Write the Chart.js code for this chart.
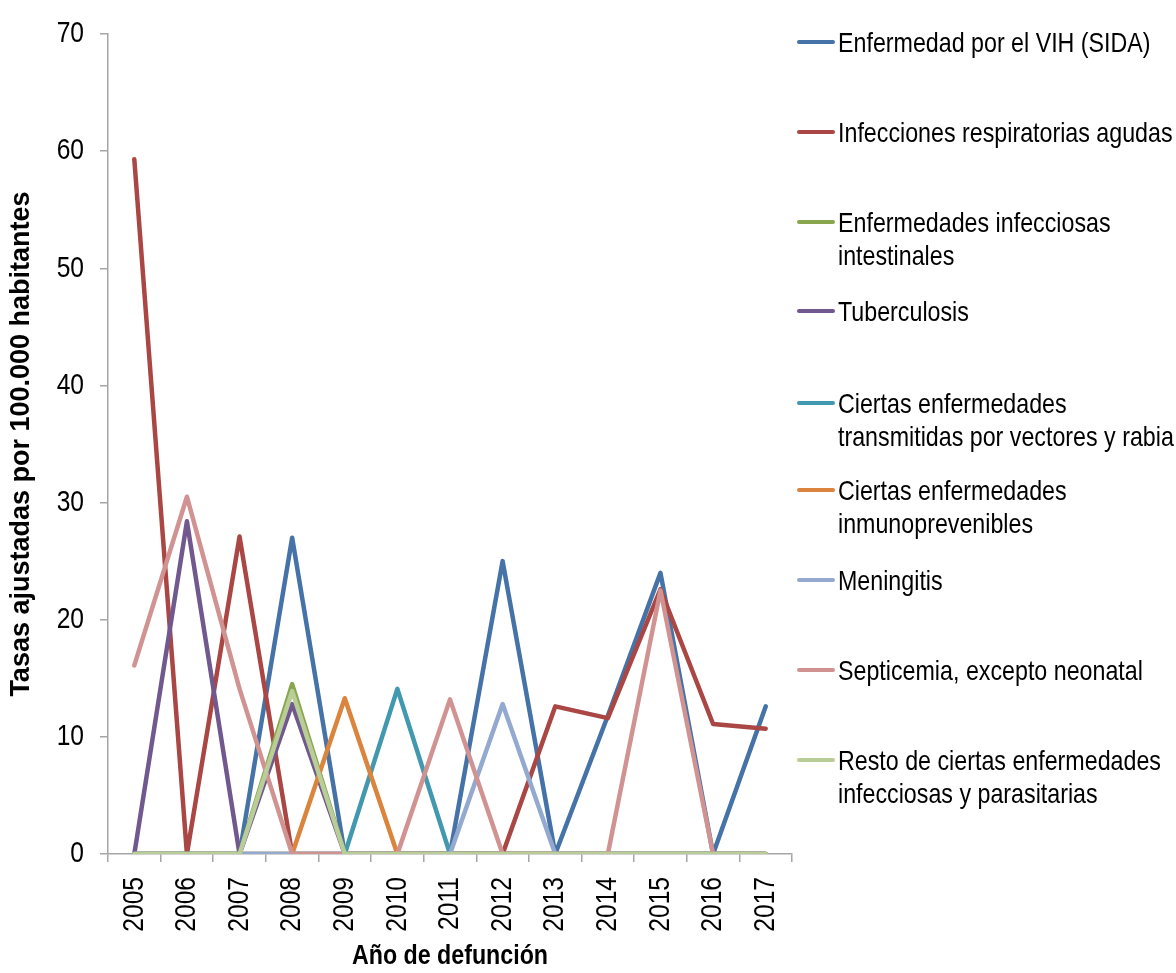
<!DOCTYPE html>
<html>
<head>
<meta charset="utf-8">
<script src="https://cdn.jsdelivr.net/npm/chart.js@4"></script>
<style>
  body { margin: 0; background: #fff; }
  #wrap { position: relative; width: 1176px; height: 973px; overflow: hidden; }
  #chart { position: absolute; left: 0; top: 0; }
  .leg { position: absolute; left: 797px; font-family: "Liberation Sans", Arial, sans-serif; font-size: 28px; line-height: 33px; color: #000; white-space: pre; }
  .leg .bar { position: absolute; left: 0; top: 14px; width: 38px; height: 4px; border-radius: 2px; }
  .leg .txt { position: absolute; left: 41px; top: 0; transform: scaleX(0.83); transform-origin: 0 0; }
</style>
</head>
<body>
<div id="wrap">
  <canvas id="chart" width="1176" height="973"></canvas>
</div>
<script>
const years = ["2005", "2006", "2007", "2008", "2009", "2010", "2011", "2012", "2013", "2014", "2015", "2016", "2017"];

const seriesNames = [
    "Enfermedad por el VIH (SIDA)",
    "Infecciones respiratorias agudas",
    "Enfermedades infecciosas\nintestinales",
    "Tuberculosis",
    "Ciertas enfermedades\ntransmitidas por vectores y rabia",
    "Ciertas enfermedades\ninmunoprevenibles",
    "Meningitis",
    "Septicemia, excepto neonatal",
    "Resto de ciertas enfermedades\ninfecciosas y parasitarias",
];

const seriesColors = ["#4572A7", "#AA4643", "#89A54E", "#71588F", "#4198AF", "#DB843D", "#93A9CF", "#D19392", "#B9CD96"];

// valores por serie (tasas ajustadas)
const vih        = [0, 0, 0, 27.0, 0, 0, 0, 25.0, 0, 11.8, 24.0, 0, 12.6];
const ira        = [59.3, 0, 27.1, 0, 0, 0, 0, 0, 12.6, 11.6, 22.6, 11.1, 10.7];
const intestinal = [0, 0, 0, 14.5, 0, 0, 0, 0, 0, 0, 0, 0, 0];
const tbc        = [0, 28.4, 0, 12.8, 0, 0, 0, 0, 0, 0, 0, 0, 0];
const vectores   = [0, 0, 0, 0, 0, 14.1, 0, 0, 0, 0, 0, 0, 0];
const inmuno     = [0, 0, 0, 0, 13.3, 0, 0, 0, 0, 0, 0, 0, 0];
const meningitis = [0, 0, 0, 0, 0, 0, 0, 12.8, 0, 0, 0, 0, 0];
const septicemia = [16.1, 30.5, 14.1, 0, 0, 0, 13.2, 0, 0, 0, 22.5, 0, 0];
const resto      = [0, 0, 0, 13.9, 0, 0, 0, 0, 0, 0, 0, 0, 0];

const yTicks = [0, 10, 20, 30, 40, 50, 60, 70];

const allSeries = [vih, ira, intestinal, tbc, vectores, inmuno, meningitis, septicemia, resto];
const legendY = [42, 132, 222, 311, 403, 490, 580, 670, 760];

const yTitle = "Tasas ajustadas por 100.000 habitantes";
const xTitle = "Año de defunción";

const font = "'Liberation Sans', Arial, sans-serif";
const axisColor = "#a6a6a6";

const canvas = document.getElementById("chart");
const ctx = canvas.getContext("2d");

// texto estrecho (tipo Arial Narrow): comprimimos horizontalmente cada fillText,
// salvo el título del eje Y que va en ancho normal
const plainFillText = ctx.fillText;
ctx.fillText = function (text, x, y, maxWidth) {
    const k = text === yTitle ? 1 : (text === xTitle ? 0.86 : 0.82);
    this.save();
    this.translate(x, y);
    this.scale(k, 1);
    if (maxWidth === undefined) plainFillText.call(this, text, 0, 0);
    else plainFillText.call(this, text, 0, 0, maxWidth / k);
    this.restore();
};

const datasets = allSeries.map((data, i) => ({
    label: seriesNames[i].replace("\n", " "),
    data: data,
    borderColor: seriesColors[i],
    backgroundColor: seriesColors[i],
    borderWidth: 4.5,
    pointRadius: 0,
    tension: 0,
    borderJoinStyle: "round",
    borderCapStyle: "round",
    fill: false,
    order: allSeries.length - i, // la última serie queda encima, como en Excel
}));

new Chart(ctx, {
    type: "line",
    data: { labels: years, datasets: datasets },
    options: {
        responsive: false,
        animation: false,
        layout: { padding: { left: 0, top: 26, right: 384, bottom: 0 } },
        plugins: { legend: { display: false }, tooltip: { enabled: false } },
        scales: {
            x: {
                offset: true,
                grid: { offset: true, drawOnChartArea: false, drawTicks: true, tickLength: 8, color: axisColor, lineWidth: 1.5 },
                border: { color: axisColor, width: 1.5 },
                ticks: { color: "#000", font: { family: font, size: 30 }, minRotation: 90, maxRotation: 90, padding: 15, autoSkip: false },
                title: { display: true, text: xTitle, color: "#000", font: { family: font, size: 27, weight: "bold" }, padding: { top: 0, bottom: 0 } },
                afterFit: (scale) => { scale.height = 119; },
            },
            y: {
                min: 0,
                max: 70,
                afterBuildTicks: (scale) => { scale.ticks = yTicks.map((v) => ({ value: v })); },
                grid: { drawOnChartArea: false, drawTicks: true, tickLength: 8, color: axisColor, lineWidth: 1.5 },
                border: { color: axisColor, width: 1.5 },
                ticks: { color: "#000", font: { family: font, size: 30 }, padding: 16 },
                title: { display: true, text: yTitle, color: "#000", font: { family: font, size: 27, weight: "bold" }, padding: { top: 5, bottom: 0 } },
                afterFit: (scale) => { scale.width = 108; },
            },
        },
    },
});

// leyenda a la derecha
const wrap = document.getElementById("wrap");
seriesNames.forEach((name, i) => {
    const item = document.createElement("div");
    item.className = "leg";
    item.style.top = (legendY[i] - 16) + "px";
    const bar = document.createElement("div");
    bar.className = "bar";
    bar.style.background = seriesColors[i];
    const txt = document.createElement("div");
    txt.className = "txt";
    txt.textContent = name;
    item.appendChild(bar);
    item.appendChild(txt);
    wrap.appendChild(item);
});
</script>
</body>
</html>
